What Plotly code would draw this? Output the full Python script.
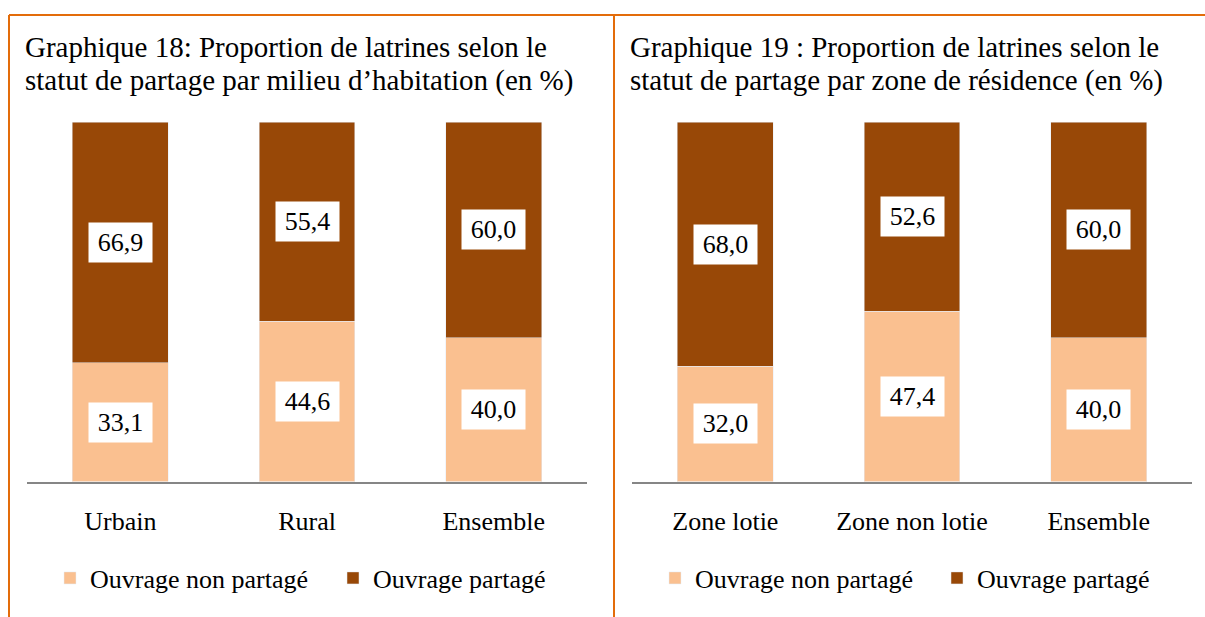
import plotly.graph_objects as go

W, H = 1205, 617

cats1 = ["Urbain", "Rural", "Ensemble"]
non1 = [33.1, 44.6, 40.0]
part1 = [66.9, 55.4, 60.0]

cats2 = ["Zone lotie", "Zone non lotie", "Ensemble"]
non2 = [32.0, 47.4, 40.0]
part2 = [68.0, 52.6, 60.0]

series_names = ["Ouvrage non partagé", "Ouvrage partagé"]
title1 = ["Graphique 18: Proportion de latrines selon le",
          "statut de partage par milieu d’habitation (en %)"]
title2 = ["Graphique 19 : Proportion de latrines selon le",
          "statut de partage par zone de résidence (en %)"]

C_LIGHT = "#FAC090"
C_DARK = "#984807"
ORANGE = "#E36C0A"
FONT = "Liberation Serif, Times New Roman, serif"


def px_x(p):
    return p / W


def px_y(p):
    return 1 - p / H


fig = go.Figure()

for (cats, non, part, xa, ya, lgs) in [
    (cats1, non1, part1, "x", "y", ("legend", "legend2")),
    (cats2, non2, part2, "x2", "y2", ("legend3", "legend4")),
]:
    fig.add_trace(go.Bar(x=cats, y=non, name=series_names[0], marker_color=C_LIGHT,
                         xaxis=xa, yaxis=ya, legend=lgs[0], hoverinfo="skip"))
    fig.add_trace(go.Bar(x=cats, y=part, name=series_names[1], marker_color=C_DARK,
                         xaxis=xa, yaxis=ya, legend=lgs[1], hoverinfo="skip"))

annotations = []


def fmt(v):
    return f"{v:.1f}".replace(".", ",")


for (cats, non, part, xa, ya) in [(cats1, non1, part1, "x", "y"),
                                   (cats2, non2, part2, "x2", "y2")]:
    for c, a, b in zip(cats, non, part):
        for yv, v in [(a / 2, a), (a + b / 2, b)]:
            annotations.append(dict(x=c, y=yv, xref=xa, yref=ya, text=fmt(v),
                                    showarrow=False, bgcolor="white",
                                    width=63, height=39, borderpad=0,
                                    font=dict(family=FONT, size=26, color="black")))

for (t, x0) in [(title1, 23), (title2, 628)]:
    for line, yc in zip(t, [47, 80]):
        annotations.append(dict(x=px_x(x0), y=px_y(yc), xref="paper", yref="paper",
                                text=line, showarrow=False, xanchor="left",
                                yanchor="middle",
                                font=dict(family=FONT, size=29, color="black")))

y_dom = [px_y(481.5), px_y(122)]
axis_common = dict(showline=True, linecolor="#868686", linewidth=2,
                   showgrid=False, zeroline=False, ticks="outside", ticklen=15,
                   tickcolor="rgba(0,0,0,0)",
                   tickfont=dict(family=FONT, size=26, color="black"),
                   fixedrange=True)
yaxis_common = dict(range=[0, 100], visible=False, domain=y_dom, fixedrange=True)

shapes = [
    dict(type="line", xref="paper", yref="paper", x0=px_x(9), x1=1.0,
         y0=px_y(15), y1=px_y(15), line=dict(color=ORANGE, width=2)),
    dict(type="line", xref="paper", yref="paper", x0=px_x(9), x1=px_x(9),
         y0=px_y(15), y1=0, line=dict(color=ORANGE, width=2)),
    dict(type="line", xref="paper", yref="paper", x0=px_x(614), x1=px_x(614),
         y0=px_y(15), y1=0, line=dict(color=ORANGE, width=2)),
]

legend_common = dict(orientation="h", yanchor="middle", xanchor="left",
                     bgcolor="rgba(0,0,0,0)", borderwidth=0,
                     font=dict(family=FONT, size=26, color="black"),
                     itemwidth=30)

fig.update_layout(
    width=W, height=H,
    margin=dict(l=0, r=0, t=0, b=0),
    paper_bgcolor="white", plot_bgcolor="white",
    barmode="stack", bargap=0.486,
    xaxis=dict(domain=[px_x(27), px_x(587)], anchor="y", **axis_common),
    yaxis=dict(anchor="x", **yaxis_common),
    xaxis2=dict(domain=[px_x(632), px_x(1192)], anchor="y2", **axis_common),
    yaxis2=dict(anchor="x2", **yaxis_common),
    legend=dict(x=px_x(50), y=px_y(578), **legend_common),
    legend2=dict(x=px_x(333), y=px_y(578), **legend_common),
    legend3=dict(x=px_x(655), y=px_y(578), **legend_common),
    legend4=dict(x=px_x(937), y=px_y(578), **legend_common),
    annotations=annotations,
    shapes=shapes,
    showlegend=True,
)

fig.write_html("out.html", config={"displayModeBar": False},
               post_script="document.body.style.margin='0';")
